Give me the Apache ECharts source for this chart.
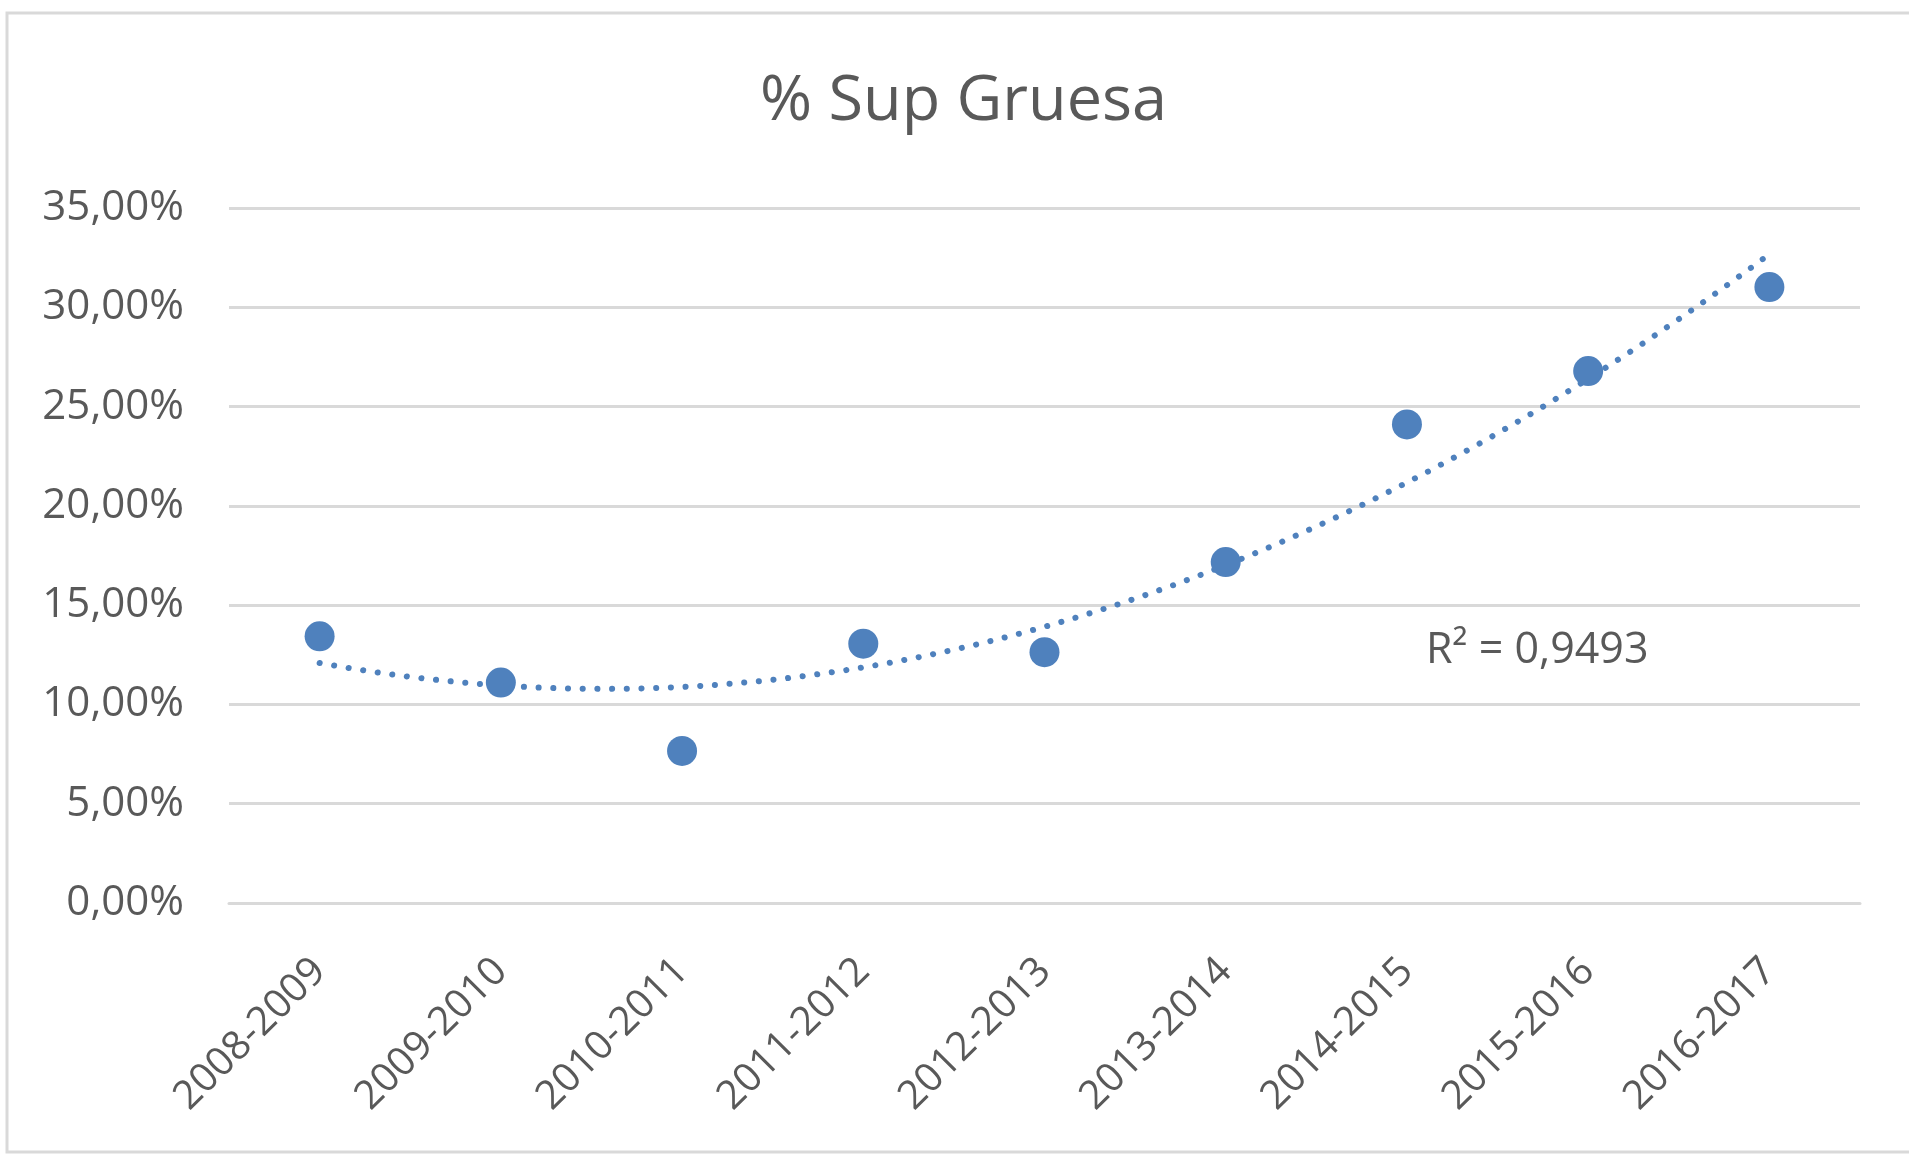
<!DOCTYPE html>
<html>
<head>
<meta charset="utf-8">
<script src="https://cdn.jsdelivr.net/npm/echarts@6/dist/echarts.min.js"></script>
<style>
html,body{margin:0;padding:0;background:#fff;}
#chart{width:1909px;height:1157px;}
</style>
</head>
<body>
<div id="chart"></div>
<script>
const titleText = '% Sup Gruesa';
const categories = ['2008-2009','2009-2010','2010-2011','2011-2012','2012-2013','2013-2014','2014-2015','2015-2016','2016-2017'];
const values = [13.43, 11.10, 7.66, 13.06, 12.63, 17.17, 24.10, 26.79, 31.02];
const r2Label = 'R² = 0,9493';
const yTicks = [0, 5, 10, 15, 20, 25, 30, 35];

// Polynomial (order 2) least-squares trendline fitted to the data
function quadFit(ys) {
  const n = ys.length;
  let S = [0,0,0,0,0], T = [0,0,0];
  for (let i = 0; i < n; i++) {
    const x = i + 1, y = ys[i];
    for (let k = 0; k < 5; k++) S[k] += Math.pow(x, k);
    for (let k = 0; k < 3; k++) T[k] += Math.pow(x, k) * y;
  }
  const M = [[S[0],S[1],S[2],T[0]],[S[1],S[2],S[3],T[1]],[S[2],S[3],S[4],T[2]]];
  for (let c = 0; c < 3; c++) {
    for (let r = c + 1; r < 3; r++) {
      const f = M[r][c] / M[c][c];
      for (let k = c; k < 4; k++) M[r][k] -= f * M[c][k];
    }
  }
  const a = [0,0,0];
  for (let r = 2; r >= 0; r--) {
    let s = M[r][3];
    for (let k = r + 1; k < 3; k++) s -= M[r][k] * a[k];
    a[r] = s / M[r][r];
  }
  return a;
}
const coef = quadFit(values);
const trend = [];
for (let i = 0; i <= 160; i++) {
  const x = 1 + (values.length - 1) * i / 160;
  trend.push([x, coef[0] + coef[1] * x + coef[2] * x * x]);
}

const chart = echarts.init(document.getElementById('chart'));
const font = '"Open Sans", "Noto Sans", sans-serif';
chart.setOption({
  backgroundColor: '#ffffff',
  animation: false,
  title: {
    text: titleText,
    left: 755,
    top: 66,
    textStyle: { fontFamily: font, fontSize: 63, fontWeight: 'normal', color: '#595959' }
  },
  grid: { left: 229, right: 49, top: 208, height: 695, containLabel: false },
  xAxis: [{
    type: 'category',
    data: categories,
    boundaryGap: true,
    axisLine: { show: true, lineStyle: { color: '#d9d9d9', width: 3 } },
    axisTick: { show: false },
    axisLabel: { rotate: 45, margin: 62, color: '#595959', fontFamily: font, fontSize: 40 }
  }, {
    type: 'value',
    min: 0.5,
    max: 9.5,
    show: false
  }],
  yAxis: {
    type: 'value',
    min: 0,
    max: 35,
    interval: 5,
    axisLine: { show: false },
    axisTick: { show: false },
    splitLine: { lineStyle: { color: '#d9d9d9', width: 3 } },
    axisLabel: {
      margin: 45,
      color: '#595959',
      fontFamily: font,
      fontSize: 42,
      formatter: v => v.toFixed(2).replace('.', ',') + '%'
    }
  },
  series: [{
    type: 'line',
    xAxisIndex: 1,
    data: trend,
    showSymbol: false,
    symbol: 'none',
    smooth: false,
    lineStyle: { color: '#4f81bd', width: 6, type: [0.1, 14.6], cap: 'round' },
    z: 2
  }, {
    type: 'scatter',
    xAxisIndex: 0,
    data: values,
    symbol: 'circle',
    symbolSize: 30,
    itemStyle: { color: '#4f81bd', opacity: 1 },
    z: 3
  }],
  graphic: [{
    type: 'rect',
    shape: { x: 7, y: 13, width: 1930, height: 1139 },
    style: { fill: 'none', stroke: '#d9d9d9', lineWidth: 3 },
    silent: true
  }, {
    type: 'text',
    left: 1426,
    top: 629,
    style: { text: r2Label, fontFamily: font, fontSize: 43, fill: '#595959' }
  }]
});
</script>
</body>
</html>
